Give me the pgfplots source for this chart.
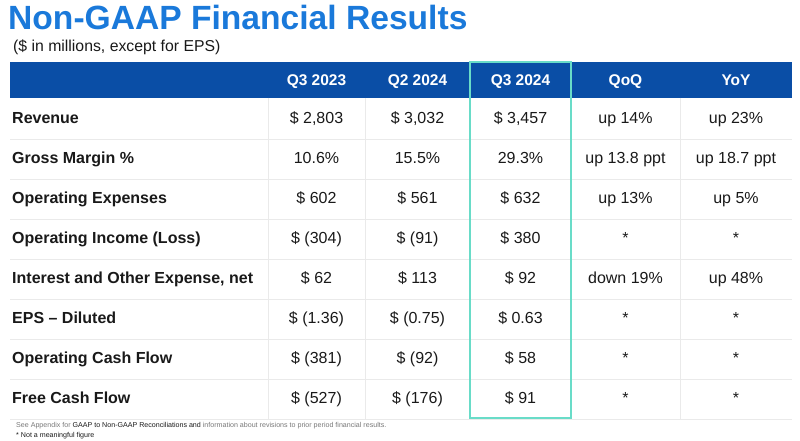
\documentclass[border=0pt]{standalone}
\usepackage{pgfplots}
\pgfplotsset{compat=1.18}
\usepackage{fontspec}
\setmainfont{Liberation Sans}
\definecolor{titleblue}{RGB}{26,121,218}
\definecolor{headblue}{RGB}{10,78,166}
\definecolor{hiteal}{RGB}{105,220,200}
\definecolor{gridgray}{RGB}{234,234,234}
\definecolor{footgray}{RGB}{120,120,120}
\definecolor{txt}{RGB}{25,25,25}
\newcommand{\row}[7]{%
  \node[anchor=base west, font=\fontsize{16}{19}\selectfont\bfseries, text=txt, inner sep=0pt] at (axis cs:12,#1+5.6) {#2};
  \node[anchor=base, font=\fontsize{16}{19}\selectfont, text=txt, inner sep=0pt] at (axis cs:316.5,#1+5.6) {#3};
  \node[anchor=base, font=\fontsize{16}{19}\selectfont, text=txt, inner sep=0pt] at (axis cs:417.5,#1+5.6) {#4};
  \node[anchor=base, font=\fontsize{16}{19}\selectfont, text=txt, inner sep=0pt] at (axis cs:520.5,#1+5.6) {#5};
  \node[anchor=base, font=\fontsize{16}{19}\selectfont, text=txt, inner sep=0pt] at (axis cs:625.5,#1+5.6) {#6};
  \node[anchor=base, font=\fontsize{16}{19}\selectfont, text=txt, inner sep=0pt] at (axis cs:736,#1+5.6) {#7};
}
\begin{document}
\begin{tikzpicture}
\begin{axis}[scale only axis, width=800pt, height=441pt,
  xmin=0, xmax=800, ymin=0, ymax=441, y dir=reverse, hide axis, clip=false]
\path (axis cs:0,0) rectangle (axis cs:800,441);
% title
\node[anchor=base west, inner sep=0pt, text=titleblue, font=\fontsize{33.6}{40}\selectfont\bfseries] at (axis cs:8,30) {Non-GAAP Financial Results};
\node[anchor=base west, inner sep=0pt, text=txt, font=\fontsize{15.8}{19}\selectfont] at (axis cs:13,52) {(\$ in millions, except for EPS)};
% header band
\fill[headblue] (axis cs:10,62) rectangle (axis cs:792,98);
% grid
\pgfplotsinvokeforeach{139,179,219,259,299,339,379,419}{
  \draw[gridgray, line width=0.7pt] (axis cs:10,#1) -- (axis cs:792,#1);
}
\pgfplotsinvokeforeach{268,365,470,571,680}{
  \draw[gridgray, line width=0.7pt] (axis cs:#1,98) -- (axis cs:#1,419);
}
% header text
\node[anchor=base, inner sep=0pt, text=white, font=\fontsize{15.5}{18}\selectfont\bfseries] at (axis cs:316.5,85.5) {Q3 2023};
\node[anchor=base, inner sep=0pt, text=white, font=\fontsize{15.5}{18}\selectfont\bfseries] at (axis cs:417.5,85.5) {Q2 2024};
\node[anchor=base, inner sep=0pt, text=white, font=\fontsize{15.5}{18}\selectfont\bfseries] at (axis cs:520.5,85.5) {Q3 2024};
\node[anchor=base, inner sep=0pt, text=white, font=\fontsize{15.5}{18}\selectfont\bfseries] at (axis cs:625.5,85.5) {QoQ};
\node[anchor=base, inner sep=0pt, text=white, font=\fontsize{15.5}{18}\selectfont\bfseries] at (axis cs:736,85.5) {YoY};
% rows
\row{118}{Revenue}{\$ 2,803}{\$ 3,032}{\$ 3,457}{up 14\%}{up 23\%}
\row{158}{Gross Margin \%}{10.6\%}{15.5\%}{29.3\%}{up 13.8 ppt}{up 18.7 ppt}
\row{198}{Operating Expenses}{\$ 602}{\$ 561}{\$ 632}{up 13\%}{up 5\%}
\row{238}{Operating Income (Loss)}{\$ (304)}{\$ (91)}{\$ 380}{*}{*}
\row{278}{Interest and Other Expense, net}{\$ 62}{\$ 113}{\$ 92}{down 19\%}{up 48\%}
\row{318}{EPS – Diluted}{\$ (1.36)}{\$ (0.75)}{\$ 0.63}{*}{*}
\row{358}{Operating Cash Flow}{\$ (381)}{\$ (92)}{\$ 58}{*}{*}
\row{398}{Free Cash Flow}{\$ (527)}{\$ (176)}{\$ 91}{*}{*}
% highlight box
\draw[hiteal, line width=2.4pt] (axis cs:470,62) rectangle (axis cs:571,418);
% footnotes
\node[anchor=base west, inner sep=0pt, text=footgray, font=\fontsize{7.1}{8}\selectfont] at (axis cs:16,427.5) {See Appendix for \textcolor{txt}{GAAP to Non-GAAP Reconciliations and} information about revisions to prior period financial results.};
\node[anchor=base west, inner sep=0pt, text=txt, font=\fontsize{7.1}{8}\selectfont] at (axis cs:16,437.5) {* Not a meaningful figure};
\end{axis}
\end{tikzpicture}
\end{document}
